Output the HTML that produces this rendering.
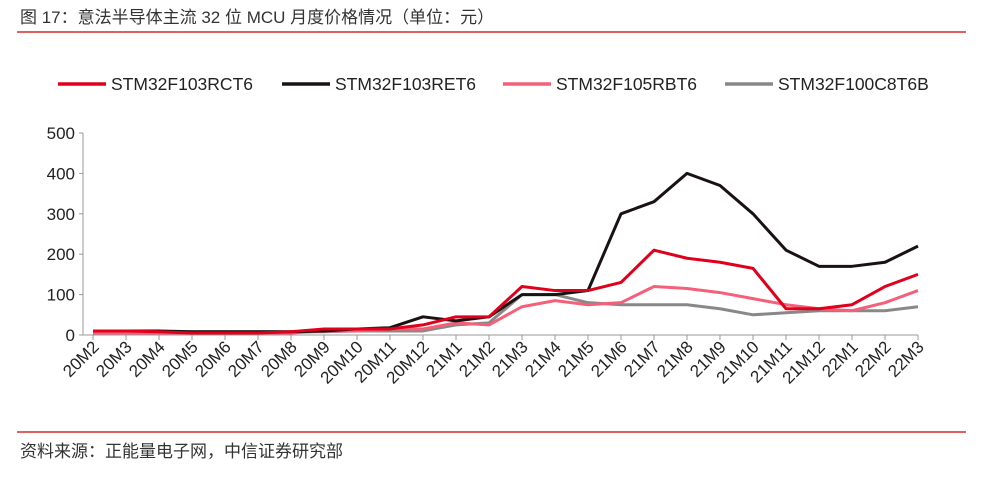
<!DOCTYPE html>
<html><head><meta charset="utf-8"><style>
body{margin:0;background:#fff;width:985px;height:474px;overflow:hidden;font-family:"Liberation Sans","Noto Sans CJK SC",sans-serif;}
</style></head><body>
<svg width="985" height="474" xmlns="http://www.w3.org/2000/svg">
<text x="20" y="23" font-size="17" fill="#333" font-family="Liberation Sans, Noto Sans CJK SC, sans-serif">图 17：意法半导体主流 32 位 MCU 月度价格情况（单位：元）</text>
<line x1="17" y1="32" x2="966" y2="32" stroke="#e06060" stroke-width="2"/>
<g id="legend"></g>
<g id="axes"></g>
<g id="plot"></g>
<line x1="17" y1="432" x2="966" y2="432" stroke="#e06060" stroke-width="2"/>
<text x="20" y="457" font-size="17" fill="#333" font-family="Liberation Sans, Noto Sans CJK SC, sans-serif">资料来源：正能量电子网，中信证券研究部</text>
</svg>
<script>
const categories=["20M2","20M3","20M4","20M5","20M6","20M7","20M8","20M9","20M10","20M11","20M12","21M1","21M2","21M3","21M4","21M5","21M6","21M7","21M8","21M9","21M10","21M11","21M12","22M1","22M2","22M3"];
const yTicks=[0,100,200,300,400,500];
const rct6=[10,10,8,5,5,5,8,15,15,15,25,45,45,120,110,110,130,210,190,180,165,65,65,75,120,150];
const ret6=[10,10,10,8,8,8,8,10,15,18,45,35,45,100,100,110,300,330,400,370,300,210,170,170,180,220];
const rbt6=[5,5,5,5,5,5,5,10,10,15,15,30,25,70,85,75,80,120,115,105,90,75,65,60,80,110];
const c8t6b=[5,5,8,8,8,8,8,8,10,10,10,25,30,100,100,80,75,75,75,65,50,55,60,60,60,70];
const seriesNames=["STM32F103RCT6","STM32F103RET6","STM32F105RBT6","STM32F100C8T6B"];
const NS="http://www.w3.org/2000/svg";
const x0=93,x1=918,yBase=335,yTop=133,yMax=500;
const xs=i=>x0+i*(x1-x0)/(categories.length-1);
const ys=v=>yBase-v*(yBase-yTop)/yMax;
function mk(t,a,p){const e=document.createElementNS(NS,t);for(const k in a)e.setAttribute(k,a[k]);p.appendChild(e);return e;}
const axes=document.getElementById('axes'),plot=document.getElementById('plot'),legend=document.getElementById('legend');
const ya=mk('line',{x1:x0-10,y1:ys(500),x2:x0-10,y2:yBase,stroke:'#999'},axes);


yTicks.forEach(v=>{
 const t=mk('line',{x1:x0-14,y1:ys(v),x2:x0-10,y2:ys(v),stroke:'#999'},axes);
 
 
 const l=mk('text',{x:x0-18,y:ys(v)+6,'text-anchor':'end','font-size':17,fill:'#222'},axes);
 l.textContent=v;
 
 
});
const xa=mk('line',{x1:x0-10,y1:yBase,x2:x1,y2:yBase,stroke:'#999'},axes);


categories.forEach((c,i)=>{
 const t=mk('line',{x1:xs(i),y1:yBase,x2:xs(i),y2:yBase+5,stroke:'#999'},axes);
 
 
 const l=mk('text',{x:xs(i)+7,y:yBase+13,'text-anchor':'end','font-size':17,fill:'#222',transform:`rotate(-45 ${xs(i)+7} ${yBase+13})`},axes);
 l.textContent=c;
 
 
});
const data=[c8t6b,rbt6,ret6,rct6];
const colors=["#888888","#f4607a","#1a1212","#e0001b"];
const names=[seriesNames[3],seriesNames[2],seriesNames[1],seriesNames[0]];
data.forEach((d,k)=>{
 const p=mk('polyline',{points:d.map((v,i)=>xs(i)+','+ys(v)).join(' '),fill:'none',stroke:colors[k],'stroke-width':3,'stroke-linejoin':'round'},plot);
 
 
});
const lx=[58,282,503,725],lc=["#e0001b","#1a1212","#f4607a","#888888"];
seriesNames.forEach((n,k)=>{
 const g=mk('g',{},legend);
 
 
 mk('line',{x1:lx[k],y1:84,x2:lx[k]+48,y2:84,stroke:lc[k],'stroke-width':3.5},g);
 const t=mk('text',{x:lx[k]+53,y:90,'font-size':17.5,fill:'#222'},g);
 t.textContent=n;
});
</script>
</body></html>
